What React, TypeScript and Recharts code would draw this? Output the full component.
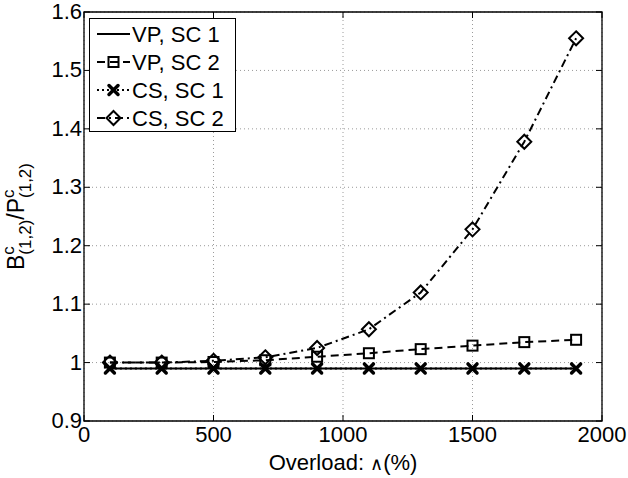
import React from "react";
import {
  LineChart,
  Line,
  XAxis,
  YAxis,
  CartesianGrid,
  ReferenceArea,
  Legend,
  Label,
} from "recharts";

// overload in %, ratio B/P for each scheme
const overload = [100, 300, 500, 700, 900, 1100, 1300, 1500, 1700, 1900];
const vpSc1 = [0.99, 0.99, 0.99, 0.99, 0.99, 0.99, 0.99, 0.99, 0.99, 0.99];
const vpSc2 = [1.0, 1.0, 1.001, 1.004, 1.01, 1.016, 1.023, 1.029, 1.035, 1.039];
const csSc1 = [0.99, 0.99, 0.99, 0.99, 0.99, 0.99, 0.99, 0.99, 0.99, 0.99];
const csSc2 = [1.0, 1.0, 1.003, 1.009, 1.025, 1.057, 1.12, 1.228, 1.378, 1.555];

const xTicks = [0, 500, 1000, 1500, 2000];
const yTicks = [0.9, 1, 1.1, 1.2, 1.3, 1.4, 1.5, 1.6];

const data = overload.map((o, i) => ({
  overload: o,
  vpSc1: vpSc1[i],
  vpSc2: vpSc2[i],
  csSc1: csSc1[i],
  csSc2: csSc2[i],
}));

const FONT = "'Liberation Sans', Arial, Helvetica, sans-serif";
const FS = 22;
const W = 628;
const H = 478;
const PLOT_TOP = 12;
const PLOT_LEFT = 84;
const PLOT_RIGHT = 602;
const PLOT_BOTTOM = 421;
const TICK = 6;

const fmt = (v: number) => String(Number(v.toFixed(1)));

function XTick({ x, y, payload }: any) {
  return (
    <g>
      <line x1={x} x2={x} y1={PLOT_BOTTOM} y2={PLOT_BOTTOM - TICK} stroke="#000" />
      <line x1={x} x2={x} y1={PLOT_TOP} y2={PLOT_TOP + TICK} stroke="#000" />
      <text x={x} y={y + 21} textAnchor="middle" fontSize={FS} fontFamily={FONT} fill="#000">
        {fmt(payload.value)}
      </text>
    </g>
  );
}

function YTick({ x, y, payload }: any) {
  return (
    <g>
      <line x1={PLOT_LEFT} x2={PLOT_LEFT + TICK} y1={y} y2={y} stroke="#000" />
      <line x1={PLOT_RIGHT} x2={PLOT_RIGHT - TICK} y1={y} y2={y} stroke="#000" />
      <text x={x - 2} y={y + 7} textAnchor="end" fontSize={FS} fontFamily={FONT} fill="#000">
        {fmt(payload.value)}
      </text>
    </g>
  );
}

function YLabel({ viewBox }: any) {
  const cy = viewBox.y + viewBox.height / 2;
  const bx = 24;
  const sub = 17;
  const cw = 0.5 * sub;
  return (
    <text
      x={bx}
      y={cy}
      transform={`rotate(-90, ${bx}, ${cy})`}
      textAnchor="middle"
      fontSize={23}
      fontFamily={FONT}
      fill="#000"
    >
      <tspan>B</tspan>
      <tspan fontSize={sub} dy={-10}>c</tspan>
      <tspan fontSize={sub} dx={-cw} dy={17}>(1,2)</tspan>
      <tspan dy={-7}>/P</tspan>
      <tspan fontSize={sub} dy={-10}>c</tspan>
      <tspan fontSize={sub} dx={-cw} dy={17}>(1,2)</tspan>
    </text>
  );
}

function XLabel({ viewBox }: any) {
  const cx = viewBox.x + viewBox.width / 2;
  return (
    <text x={cx} y={PLOT_BOTTOM + 49} textAnchor="middle" fontSize={FS} fontFamily={FONT} fill="#000">
      Overload: <tspan fontSize={18}>∧</tspan>(%)
    </text>
  );
}

// markers
function Square({ cx, cy }: { cx: number; cy: number }) {
  return <rect x={cx - 5} y={cy - 5} width={10} height={10} fill="none" stroke="#000" strokeWidth={2} />;
}
function Diamond({ cx, cy }: { cx: number; cy: number }) {
  const r = 7;
  return (
    <path
      d={`M${cx},${cy - r}L${cx + r},${cy}L${cx},${cy + r}L${cx - r},${cy}Z`}
      fill="none"
      stroke="#000"
      strokeWidth={2}
    />
  );
}
function Cross({ cx, cy }: { cx: number; cy: number }) {
  const r = 4.5;
  return (
    <path
      d={`M${cx - r},${cy - r}L${cx + r},${cy + r}M${cx - r},${cy + r}L${cx + r},${cy - r}`}
      stroke="#000"
      strokeWidth={3.5}
      strokeLinecap="round"
    />
  );
}

const series = [
  { key: "vpSc1", name: "VP, SC 1", dash: undefined, marker: null },
  { key: "vpSc2", name: "VP, SC 2", dash: "8 5", marker: Square },
  { key: "csSc1", name: "CS, SC 1", dash: "2 3", marker: Cross },
  { key: "csSc2", name: "CS, SC 2", dash: "8 4 2 4", marker: Diamond },
];

function LegendBox() {
  const w = 147;
  const h = 114;
  return (
    <svg width={w} height={h} style={{ display: "block" }}>
      <rect x={0.5} y={0.5} width={w - 1} height={h - 1} fill="#fff" stroke="#000" />
      {series.map((s, i) => {
        const y = 16 + i * 28;
        const M = s.marker;
        return (
          <g key={s.key}>
            <line x1={8} x2={41} y1={y} y2={y} stroke="#000" strokeWidth={2} strokeDasharray={s.dash} />
            {M ? <M cx={24.5} cy={y} /> : null}
            <text x={43} y={y + 8} fontSize={FS} fontFamily={FONT} fill="#000">
              {s.name}
            </text>
          </g>
        );
      })}
    </svg>
  );
}

export default function App() {
  return (
    <div style={{ position: "absolute", left: 0, top: 0, width: W, height: H, background: "#fff" }}>
      <LineChart width={W} height={H} data={data} margin={{ top: PLOT_TOP, right: W - PLOT_RIGHT, bottom: 0, left: 0 }}>
        <CartesianGrid stroke="#9a9a9a" strokeDasharray="1 3" />
        <XAxis
          dataKey="overload"
          type="number"
          domain={[0, 2000]}
          ticks={xTicks}
          allowDataOverflow
          height={H - PLOT_BOTTOM}
          tickSize={0}
          tickMargin={0}
          tickLine={false}
          axisLine={false}
          tick={<XTick />}
        >
          <Label content={<XLabel />} />
        </XAxis>
        <YAxis
          type="number"
          domain={[0.9, 1.6]}
          ticks={yTicks}
          allowDataOverflow
          width={PLOT_LEFT}
          tickSize={0}
          tickMargin={0}
          tickLine={false}
          axisLine={false}
          tick={<YTick />}
        >
          <Label content={<YLabel />} />
        </YAxis>
        <ReferenceArea x1={0} x2={2000} y1={0.9} y2={1.6} fill="none" stroke="#000" strokeWidth={1.3} ifOverflow="visible" />
        {series.map((s) => {
          const M = s.marker;
          return (
            <Line
              key={s.key}
              dataKey={s.key}
              name={s.name}
              type="linear"
              stroke="#000"
              strokeWidth={2}
              strokeDasharray={s.dash}
              isAnimationActive={false}
              dot={M ? (p: any) => <M key={`${s.key}-${p.index}`} cx={p.cx} cy={p.cy} /> : false}
              activeDot={false}
            />
          );
        })}
        <Legend
          layout="vertical"
          align="center"
          verticalAlign="middle"
          content={<LegendBox />}
          wrapperStyle={{ position: "absolute", left: 89, top: 18, width: 147, height: 114 }}
        />
      </LineChart>
    </div>
  );
}
